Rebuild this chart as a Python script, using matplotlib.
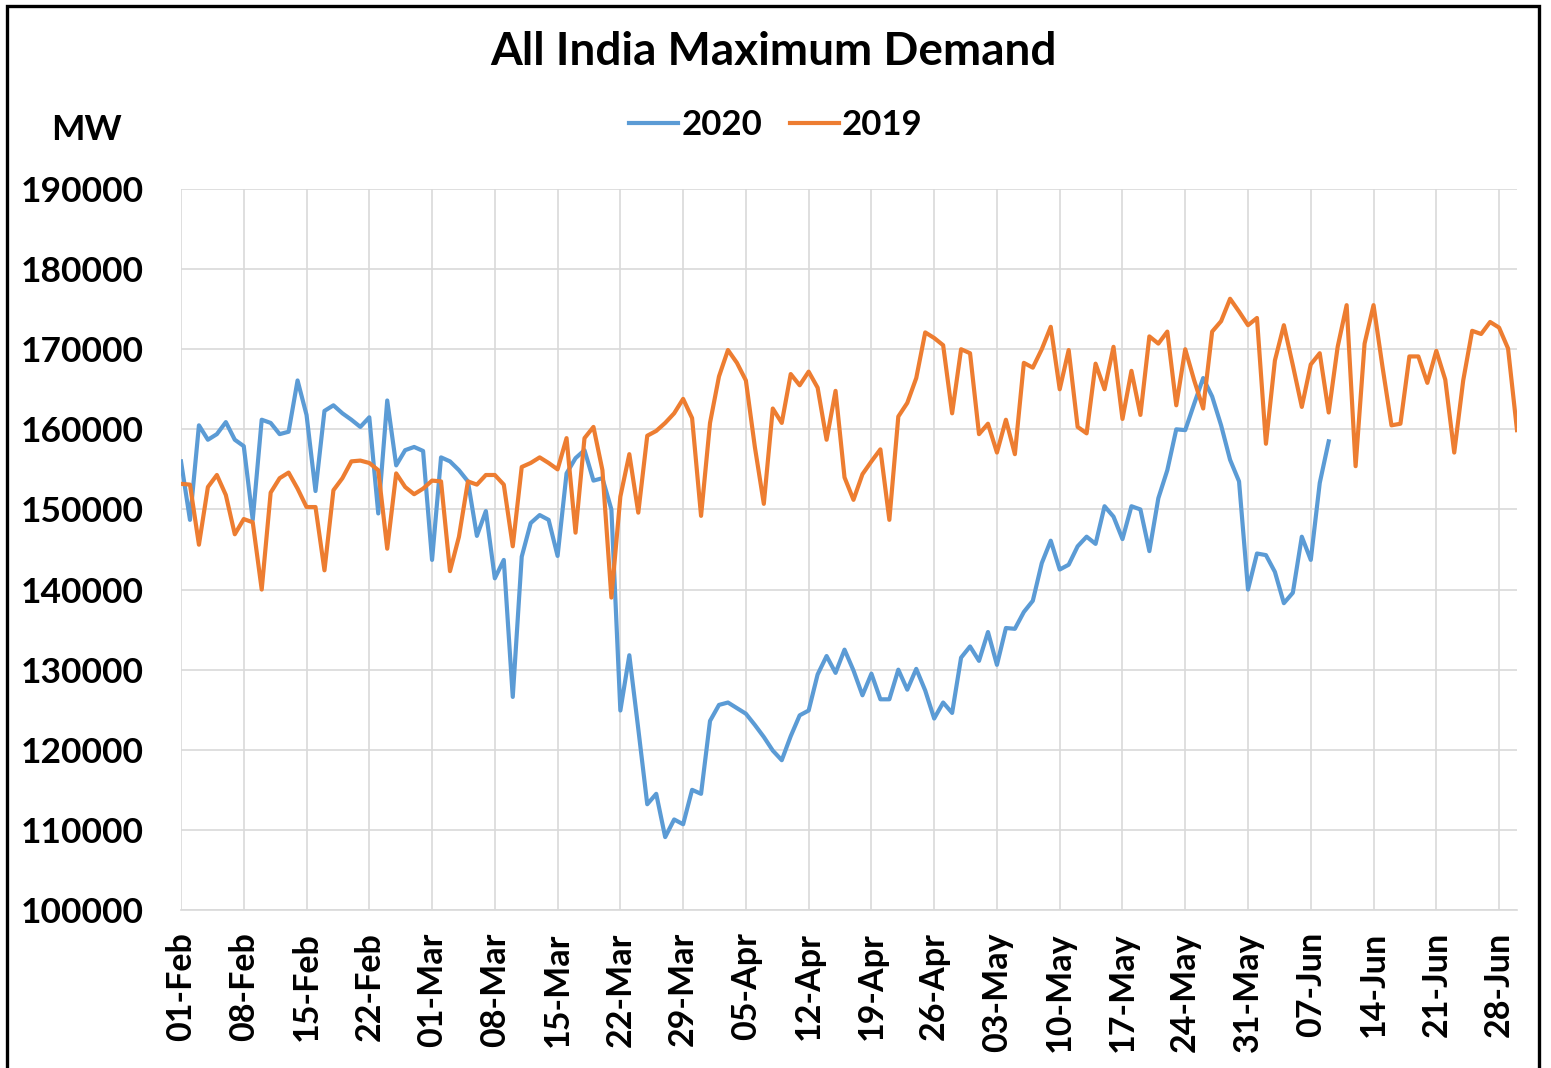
import matplotlib
matplotlib.use("Agg")
import matplotlib.pyplot as plt
import pandas as pd
import numpy as np
from matplotlib.patches import Rectangle
from matplotlib.lines import Line2D

# ---- data ----
dates = pd.date_range("2019-02-01", "2019-06-30", freq="D")
categories = [d.strftime("%d-%b") for d in dates]

demand_2020 = [
    156000, 148700, 160500, 158700, 159400, 160900, 158700, 157900, 148700, 161200,
    160800, 159400, 159700, 166100, 161800, 152300, 162300, 163000, 162000, 161200,
    160300, 161500, 149500, 163600, 155500, 157400, 157800, 157300, 143700, 156500,
    156000, 154900, 153500, 146700, 149800, 141400, 143700, 126600, 144100, 148300,
    149300, 148700, 144200, 154500, 156400, 157400, 153600, 153900, 150000, 124900,
    131800, 122600, 113200, 114500, 109100, 111300, 110700, 115000, 114500, 123600,
    125600, 125900, 125200, 124500, 123100, 121600, 119900, 118700, 121700, 124300,
    124900, 129400, 131700, 129600, 132500, 129900, 126800, 129500, 126300, 126300,
    130000, 127500, 130100, 127400, 123900, 125900, 124600, 131500, 132900, 131100,
    134700, 130600, 135200, 135100, 137200, 138600, 143300, 146100, 142500, 143100,
    145400, 146600, 145700, 150400, 149100, 146300, 150400, 150000, 144800, 151400,
    154900, 160000, 159900, 163200, 166400, 164100, 160500, 156200, 153500, 140000,
    144500, 144300, 142200, 138300, 139600, 146600, 143700, 153300, 158500,
]

demand_2019 = [
    153200, 153100, 145600, 152800, 154300, 151800, 146900, 148800, 148400, 140000,
    152100, 153900, 154600, 152600, 150300, 150300, 142400, 152400, 153900, 156000,
    156100, 155800, 154900, 145100, 154500, 152800, 151900, 152600, 153600, 153500,
    142300, 146600, 153500, 153100, 154300, 154300, 153100, 145400, 155300, 155800,
    156500, 155800, 155000, 158900, 147100, 158900, 160300, 154900, 139000, 151600,
    156900, 149600, 159200, 159800, 160800, 162000, 163800, 161400, 149200, 160800,
    166600, 169900, 168300, 166100, 157800, 150700, 162600, 160800, 166900, 165500,
    167200, 165200, 158700, 164800, 154000, 151200, 154400, 156000, 157500, 148700,
    161600, 163300, 166400, 172100, 171400, 170500, 162000, 170000, 169500, 159400,
    160700, 157100, 161200, 156900, 168300, 167700, 170000, 172800, 165000, 169900,
    160300, 159500, 168200, 165000, 170300, 161300, 167300, 161800, 171600, 170700,
    172200, 163000, 170000, 166100, 162600, 172200, 173500, 176300, 174700, 173000,
    173900, 158200, 168600, 173000, 168000, 162800, 168100, 169500, 162100, 170300,
    175500, 155400, 170700, 175500, 167800, 160500, 160700, 169100, 169100, 165800,
    169800, 166200, 157100, 166100, 172300, 171900, 173400, 172700, 170100, 159900,
]

series_names = ["2020", "2019"]
colors = ["#5B9BD5", "#ED7D31"]
y_ticks = list(range(100000, 190001, 10000))

FONT = "Lato"

fig = plt.figure(figsize=(15.51, 10.68), dpi=100)
ax = fig.add_axes([181/1551, 1-910/1068, (1517-181)/1551, (910-189)/1068])

x = np.arange(len(categories))
ax.plot(x[:len(demand_2020)], demand_2020, color=colors[0], lw=3.0, solid_joinstyle="round")
ax.plot(x[:len(demand_2019)], demand_2019, color=colors[1], lw=3.0, solid_joinstyle="round")

ax.set_xlim(0, len(categories) - 1)
ax.set_ylim(100000, 190000)
ax.set_yticks(y_ticks)
ax.set_yticklabels([str(v) for v in y_ticks], fontfamily=FONT, fontweight="bold", fontsize=25.5)
tick_pos = x[::7]
ax.set_xticks(tick_pos)
ax.set_xticklabels([categories[i] for i in tick_pos], rotation=90,
                   fontfamily=FONT, fontweight="bold", fontsize=24.5)
ax.tick_params(axis="both", length=0)
ax.tick_params(axis="y", pad=27)
ax.tick_params(axis="x", pad=16)
ax.grid(True, color="#d9d9d9", lw=1.2)
ax.set_axisbelow(True)
for s in ["top", "right", "left"]:
    ax.spines[s].set_visible(False)
ax.spines["bottom"].set_color("#d9d9d9")
ax.spines["bottom"].set_linewidth(1.2)

fig.text(773/1551, 1-52/1068, "All India Maximum Demand", ha="center", va="center",
         fontfamily=FONT, fontweight="bold", fontsize=33)
fig.text(86/1551, 1-130/1068, "MW", ha="center", va="center",
         fontfamily=FONT, fontweight="bold", fontsize=25.5)

handles = [Line2D([], [], color=c, lw=3.0) for c in colors]
fig.legend(handles, series_names, loc="center", bbox_to_anchor=(776/1551, 1-125/1068),
           ncol=2, frameon=False, handlelength=1.4, handletextpad=0.1, columnspacing=0.8,
           prop={"family": FONT, "weight": "bold", "size": 25})

fig.patches.append(Rectangle((7/1551, -0.05), (1539-7)/1551, 1.05-6/1068,
                             transform=fig.transFigure, fill=False, edgecolor="black", lw=2.4))

fig.savefig("out.png", dpi=100)
